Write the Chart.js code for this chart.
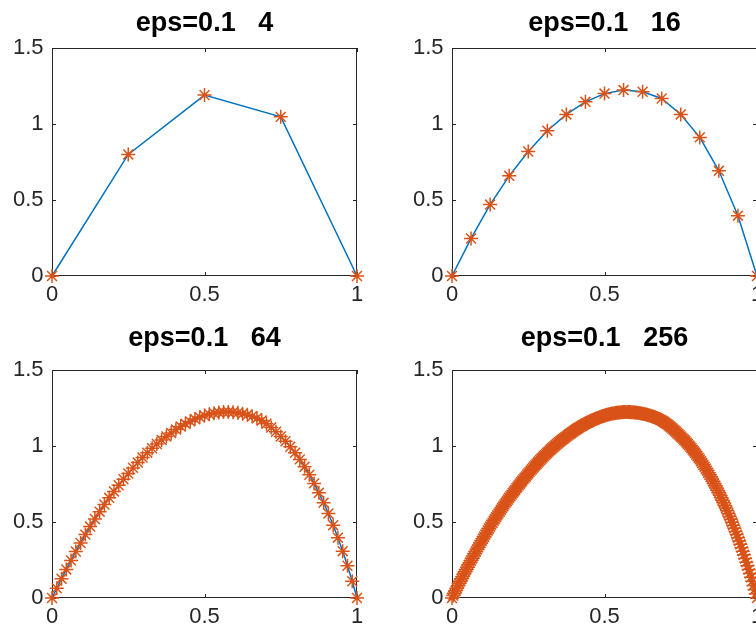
<!DOCTYPE html>
<html>
<head>
<meta charset="utf-8">
<script src="https://cdn.jsdelivr.net/npm/chart.js@4/dist/chart.umd.min.js"></script>
<style>
  html, body { margin: 0; padding: 0; background: #fff; }
  #lienzo { position: relative; width: 756px; height: 626px; overflow: hidden; }
  #lienzo canvas { position: absolute; }
</style>
</head>
<body>
<div id="lienzo">
  <canvas id="g4" width="409" height="310" style="left:0px;top:0px"></canvas>
  <canvas id="g16" width="409" height="310" style="left:400px;top:0px"></canvas>
  <canvas id="g64" width="409" height="310" style="left:0px;top:322px"></canvas>
  <canvas id="g256" width="409" height="310" style="left:400px;top:322px"></canvas>
</div>
<script>
const eps = 0.1
const mallas = [4, 16, 64, 256]

const ticksX = [0, 0.5, 1]
const ticksY = [0, 0.5, 1, 1.5]

// valores
const u4 = [0, 0.80, 1.19, 1.047, 0]

const u16 = [0, 0.247, 0.470, 0.659, 0.819, 0.956, 1.063, 1.146, 1.200,
    1.223, 1.212, 1.168, 1.063, 0.912, 0.692, 0.397, 0]

const u64 = [0, 0.064, 0.127, 0.188, 0.247, 0.306, 0.362, 0.417, 0.470, 0.520,
    0.568, 0.615, 0.659, 0.701, 0.742, 0.781, 0.819, 0.856, 0.891, 0.924,
    0.956, 0.985, 1.013, 1.039, 1.063, 1.086, 1.108, 1.128, 1.146, 1.162,
    1.177, 1.189, 1.200, 1.209, 1.216, 1.220, 1.223, 1.223, 1.222, 1.218,
    1.212, 1.205, 1.196, 1.183, 1.168, 1.147, 1.122, 1.094, 1.063, 1.031,
    0.995, 0.955, 0.912, 0.864, 0.811, 0.754, 0.692, 0.627, 0.556, 0.479,
    0.397, 0.308, 0.212, 0.110, 0]

const u256 = [
    0, 0.016, 0.032, 0.048, 0.064, 0.080, 0.096, 0.111,
    0.127, 0.142, 0.158, 0.173, 0.188, 0.203, 0.218, 0.232,
    0.247, 0.262, 0.277, 0.291, 0.306, 0.320, 0.334, 0.348,
    0.362, 0.376, 0.390, 0.403, 0.417, 0.430, 0.444, 0.457,
    0.470, 0.483, 0.495, 0.508, 0.520, 0.532, 0.544, 0.556,
    0.568, 0.580, 0.592, 0.603, 0.615, 0.626, 0.637, 0.648,
    0.659, 0.670, 0.680, 0.691, 0.701, 0.711, 0.722, 0.732,
    0.742, 0.752, 0.762, 0.771, 0.781, 0.791, 0.800, 0.810,
    0.819, 0.828, 0.838, 0.847, 0.856, 0.865, 0.874, 0.882,
    0.891, 0.899, 0.908, 0.916, 0.924, 0.932, 0.940, 0.948,
    0.956, 0.963, 0.971, 0.978, 0.985, 0.992, 0.999, 1.006,
    1.013, 1.020, 1.026, 1.033, 1.039, 1.045, 1.051, 1.057,
    1.063, 1.069, 1.075, 1.080, 1.086, 1.092, 1.097, 1.103,
    1.108, 1.113, 1.118, 1.123, 1.128, 1.133, 1.137, 1.142,
    1.146, 1.150, 1.154, 1.158, 1.162, 1.166, 1.170, 1.173,
    1.177, 1.180, 1.183, 1.186, 1.189, 1.192, 1.195, 1.197,
    1.200, 1.202, 1.205, 1.207, 1.209, 1.211, 1.213, 1.214,
    1.216, 1.217, 1.218, 1.219, 1.220, 1.221, 1.222, 1.222,
    1.223, 1.223, 1.223, 1.223, 1.223, 1.223, 1.222, 1.222,
    1.222, 1.221, 1.220, 1.219, 1.218, 1.217, 1.215, 1.214,
    1.212, 1.210, 1.209, 1.207, 1.205, 1.203, 1.201, 1.198,
    1.196, 1.193, 1.190, 1.186, 1.183, 1.179, 1.176, 1.172,
    1.168, 1.163, 1.158, 1.152, 1.147, 1.141, 1.135, 1.128,
    1.122, 1.115, 1.108, 1.101, 1.094, 1.086, 1.079, 1.071,
    1.063, 1.055, 1.047, 1.039, 1.031, 1.022, 1.013, 1.004,
    0.995, 0.985, 0.975, 0.965, 0.955, 0.944, 0.934, 0.923,
    0.912, 0.900, 0.888, 0.876, 0.864, 0.851, 0.838, 0.824,
    0.811, 0.797, 0.783, 0.768, 0.754, 0.739, 0.723, 0.708,
    0.692, 0.676, 0.660, 0.643, 0.627, 0.609, 0.592, 0.574,
    0.556, 0.537, 0.518, 0.498, 0.479, 0.459, 0.438, 0.418,
    0.397, 0.375, 0.353, 0.330, 0.308, 0.284, 0.260, 0.236,
    0.212, 0.187, 0.161, 0.136, 0.110, 0.083, 0.055, 0.028,
    0]

const series = [u4, u16, u64, u256]

const azul = '#0072BD'
const naranja = '#D95319'
const gris = '#262626'
const fuente = "'Liberation Sans', Arial, sans-serif"

// caja y marcas hacia dentro, estilo matlab
const cajaMatlab = {
    id: 'cajaMatlab',
    beforeDatasetsDraw(chart) {
        const { ctx, chartArea: a, scales } = chart
        ctx.save()
        ctx.strokeStyle = gris
        ctx.lineWidth = 1
        ctx.beginPath()
        ctx.rect(a.left + 0.5, a.top + 0.5, a.right - a.left - 1, a.bottom - a.top - 1)
        ticksX.forEach(v => {
            const px = Math.round(scales.x.getPixelForValue(v)) + 0.5
            ctx.moveTo(px, a.bottom)
            ctx.lineTo(px, a.bottom - 4)
            ctx.moveTo(px, a.top)
            ctx.lineTo(px, a.top + 4)
        })
        ticksY.forEach(v => {
            const py = Math.round(scales.y.getPixelForValue(v)) + 0.5
            ctx.moveTo(a.left, py)
            ctx.lineTo(a.left + 4, py)
            ctx.moveTo(a.right, py)
            ctx.lineTo(a.right - 4, py)
        })
        ctx.stroke()
        ctx.restore()
    }
}

function renderGrafica(id, n, valores, fila) {
    const puntos = valores.map((v, i) => ({ x: i / n, y: v }))
    const ctx = document.getElementById(id).getContext('2d')
    // los titulos de abajo quedan algo mas arriba
    const padTitulo = fila === 0 ? { top: 7.8, bottom: 7.8 } : { top: 0, bottom: 15.6 }

    return new Chart(ctx, {
        type: 'line',
        data: {
            datasets: [{
                data: puntos,
                borderColor: azul,
                borderWidth: 1.5,
                pointStyle: 'star',
                pointRadius: 7,
                pointBorderWidth: 1.5,
                pointBorderColor: naranja,
                pointBackgroundColor: naranja,
                tension: 0,
                clip: false
            }]
        },
        options: {
            responsive: false,
            animation: false,
            events: [],
            layout: { padding: 0 },
            plugins: {
                legend: { display: false },
                tooltip: { enabled: false },
                title: {
                    display: true,
                    text: 'eps=' + eps + '   ' + n,
                    color: '#000',
                    font: { family: fuente, size: 27, weight: 'bold', lineHeight: 1.2 },
                    padding: padTitulo
                }
            },
            scales: {
                x: {
                    type: 'linear',
                    min: 0,
                    max: 1,
                    afterFit: (s) => { s.height = 34 },
                    afterBuildTicks: (s) => { s.ticks = ticksX.map(v => ({ value: v })) },
                    grid: { display: false, drawTicks: false },
                    border: { display: false },
                    ticks: {
                        padding: 6,
                        color: gris,
                        maxRotation: 0,
                        autoSkip: false,
                        font: { family: fuente, size: 22 },
                        callback: (v) => String(v)
                    }
                },
                y: {
                    type: 'linear',
                    min: 0,
                    max: 1.5,
                    afterFit: (s) => { s.width = 52 },
                    afterBuildTicks: (s) => { s.ticks = ticksY.map(v => ({ value: v })) },
                    grid: { display: false, drawTicks: false },
                    border: { display: false },
                    ticks: {
                        padding: 8.5,
                        color: gris,
                        autoSkip: false,
                        font: { family: fuente, size: 22 },
                        callback: (v) => String(v)
                    }
                },
                // eje vacio a la derecha para centrar el titulo sobre la caja
                derecha: {
                    type: 'linear',
                    position: 'right',
                    afterFit: (s) => { s.width = 52 },
                    grid: { display: false, drawTicks: false },
                    border: { display: false },
                    ticks: { display: false }
                }
            }
        },
        plugins: [cajaMatlab]
    })
}

mallas.forEach((n, i) => {
    renderGrafica('g' + n, n, series[i], Math.floor(i / 2))
})
</script>
</body>
</html>
